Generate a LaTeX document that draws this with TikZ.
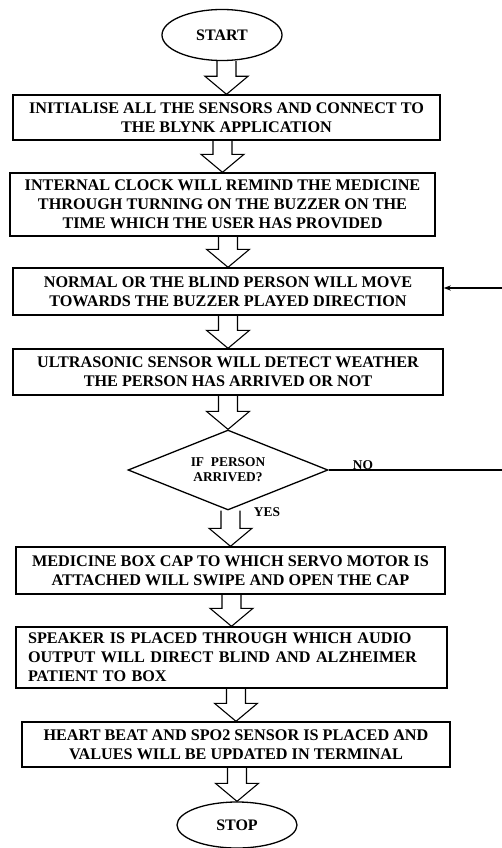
\documentclass[tikz,border=0pt]{standalone}
\usepackage{fontspec}
\setmainfont{Liberation Serif}
\usetikzlibrary{shapes.geometric,calc,arrows.meta}

\begin{document}
\begin{tikzpicture}[x=1pt,y=-1pt,
  box/.style={draw, line width=1.4pt, align=center, inner sep=0pt,
    font=\fontsize{16.2}{18.8}\selectfont\bfseries},
  term/.style={draw, ellipse, line width=1.3pt, minimum width=120pt,
    inner sep=0pt, font=\fontsize{16}{18.8}\selectfont\bfseries},
  decision/.style={draw, diamond, aspect=2.5, line width=1.3pt, inner sep=0pt,
    minimum width=200pt, minimum height=80pt, align=center,
    font=\fontsize{13.4}{15}\selectfont\bfseries},
  lbl/.style={inner sep=0pt, font=\fontsize{13.4}{15}\selectfont\bfseries},
  hollow/.style={line width=1.1pt, line join=miter}]
\useasboundingbox (0,0) rectangle (501,848);

% steps
\node[term, minimum height=51pt] (start) at (222,35) {START};
\node[box, minimum width=427pt, minimum height=45pt] (init) at (226.5,117.5)
  {INITIALISE ALL THE SENSORS AND CONNECT TO\\THE BLYNK APPLICATION};
\node[box, minimum width=425pt, minimum height=63pt] (clock) at (222.5,204.5)
  {INTERNAL CLOCK WILL REMIND THE MEDICINE\\THROUGH TURNING ON THE BUZZER ON THE\\TIME WHICH THE USER HAS PROVIDED};
\node[box, minimum width=430pt, minimum height=47pt] (move) at (228,291.5)
  {NORMAL OR THE BLIND PERSON WILL MOVE\\TOWARDS THE BUZZER PLAYED DIRECTION};
\node[box, minimum width=430pt, minimum height=46pt] (detect) at (228,372)
  {ULTRASONIC SENSOR WILL DETECT WEATHER\\THE PERSON HAS ARRIVED OR NOT};
\node[decision] (check) at (228,470) {IF~~PERSON\\ARRIVED?};
\node[box, minimum width=429pt, minimum height=47pt] (open) at (230.5,570.5)
  {MEDICINE BOX CAP TO WHICH SERVO MOTOR IS\\ATTACHED WILL SWIPE AND OPEN THE CAP};
\node[box, text width=407pt, align=left, inner xsep=12pt, minimum height=61pt] (speaker) at (231.5,657.5)
  {SPEAKER IS PLACED THROUGH WHICH AUDIO\\OUTPUT WILL DIRECT BLIND AND ALZHEIMER\\PATIENT TO BOX};
\node[box, minimum width=428pt, minimum height=45pt] (heart) at (236,744.5)
  {HEART BEAT AND SPO2 SENSOR IS PLACED AND\\VALUES WILL BE UPDATED IN TERMINAL};
\node[term, minimum height=46pt] (stop) at (237,825) {STOP};

% block arrows
\foreach \a/\b in {start/init,init/clock,clock/move,move/detect,detect/check,check/open,open/speaker,speaker/heart,heart/stop}
  \draw[hollow] ($(\a.south -| \b.north)+(-9.5,0)$) -- ($(\b.north)+(-9.5,-18)$)
    -- ($(\b.north)+(-21.5,-18)$) -- (\b.north) -- ($(\b.north)+(21.5,-18)$)
    -- ($(\b.north)+(9.5,-18)$) -- ($(\a.south -| \b.north)+(9.5,0)$);

% loop back
\coordinate (rim) at (506,0);
\coordinate (back) at ($(move.east)+(0,-3.5)$);
\draw[line width=1.1pt, -{Stealth[length=7pt,width=5pt]}] (check.east) -- (check.east -| rim) |- (back);
\node[lbl] (no) at (363,465) {NO};
\node[lbl] (yes) at (267,512) {YES};
\end{tikzpicture}
\end{document}
